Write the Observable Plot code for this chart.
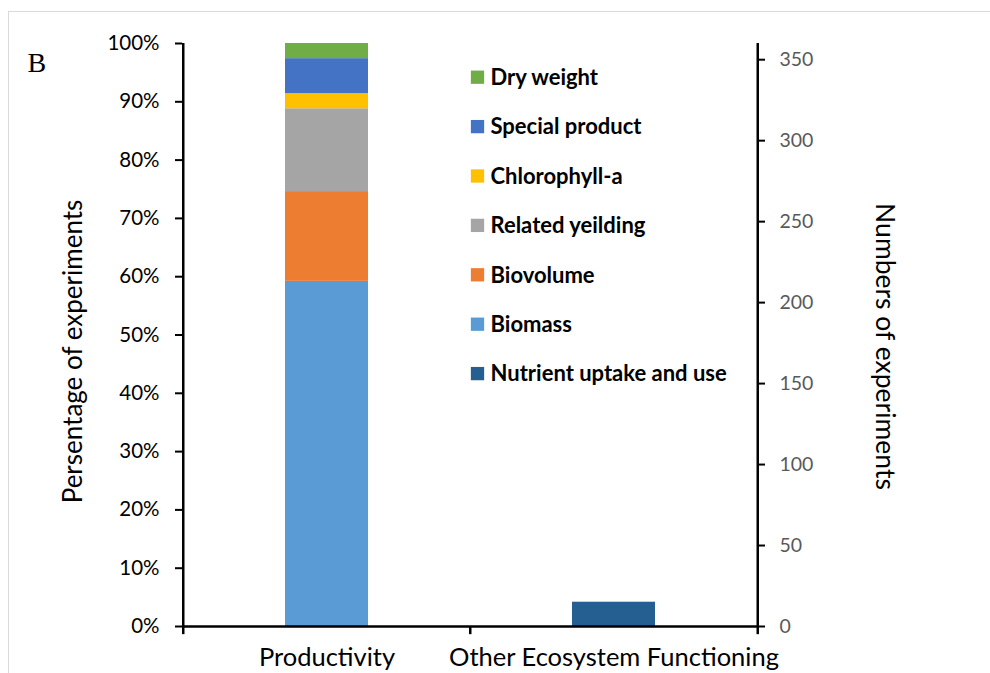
<!DOCTYPE html>
<html><head><meta charset="utf-8">
<script src="https://cdn.jsdelivr.net/npm/d3@7"></script>
<script src="https://cdn.jsdelivr.net/npm/@observablehq/plot@0.6"></script>
<style>
body{margin:0;background:#fff;}
#wrap{position:relative;width:990px;height:673px;overflow:hidden;}
#border{position:absolute;left:8px;top:11px;width:1000px;height:700px;border-top:1.5px solid #d9d9d9;border-left:1.5px solid #d9d9d9;pointer-events:none;}
#wrap svg{position:absolute;left:0;top:0;}
</style></head><body><div id="wrap"><div id="border"></div></div>
<script>
// ---- data ----
const categories = ["Productivity", "Other Ecosystem Functioning"];
const productivitySeries = ["Biomass", "Biovolume", "Related yeilding", "Chlorophyll-a", "Special product", "Dry weight"];
const productivityPercent = [59.2, 15.4, 14.2, 2.6, 6.0, 2.6];
const otherSeries = ["Nutrient uptake and use"];
const otherCounts = [15];           // read on right axis (numbers of experiments)
const leftTicks = [0, 10, 20, 30, 40, 50, 60, 70, 80, 90, 100];
const rightTicks = [0, 50, 100, 150, 200, 250, 300, 350];
const rightMax = 360;               // right axis top equals 100% on left axis
const legendOrder = ["Dry weight", "Special product", "Chlorophyll-a", "Related yeilding", "Biovolume", "Biomass", "Nutrient uptake and use"];
const legendColors = ["#70AD47", "#4472C4", "#FFC000", "#A5A5A5", "#ED7D31", "#5B9BD5", "#255E91"];
const leftTitle = "Persentage of experiments";
const rightTitle = "Numbers of experiments";
const panelLabel = "B";

// ---- build ----
const rows = [
  ...productivitySeries.map((s, i) => ({category: categories[0], series: s, value: productivityPercent[i]})),
  ...otherSeries.map((s, i) => ({category: categories[1], series: s, value: otherCounts[i] / rightMax * 100}))
];

const W = 990, H = 673, mL = 182, mR = 233, mT = 43, mB = 47;
const step = (W - mL - mR) / categories.length;
const midY = mT + (H - mT - mB) / 2;
const font = "Lato, 'Open Sans', sans-serif";

const legendMarks = legendOrder.flatMap((k, i) => [
  Plot.dot([k], {frameAnchor: "top-left", dx: 477 - mL, dy: 76.7 - mT + i * 49.4, symbol: "square", r: 7.5, fill: legendColors[i], stroke: null}),
  Plot.text([k], {frameAnchor: "top-left", dx: 490 - mL, dy: 77.5 - mT + i * 49.4, textAnchor: "start", lineAnchor: "middle", fontWeight: "bold", fontSize: 22, fill: "#000"})
]);

const chart = Plot.plot({
  width: W, height: H,
  marginLeft: mL, marginRight: mR, marginTop: mT, marginBottom: mB,
  style: {fontFamily: font, background: "transparent", overflow: "visible", color: "#000"},
  x: {domain: categories, paddingInner: 0.711, paddingOuter: 0.3555, axis: null},
  y: {domain: [0, 100], axis: null},
  color: {domain: legendOrder, range: legendColors},
  marks: [
    Plot.barY(rows, {x: "category", y: "value", fill: "series"}),
    // axis lines
    Plot.ruleY([0], {strokeWidth: 2.5, stroke: "#000"}),
    Plot.ruleX([categories[0]], {dx: -step / 2, y1: 0, y2: 100, strokeWidth: 2.5, stroke: "#000"}),
    Plot.ruleX([categories[categories.length - 1]], {dx: step / 2, y1: 0, y2: 100, strokeWidth: 2.5, stroke: "#000"}),
    // category boundary ticks
    Plot.ruleX(categories, {dx: -step / 2, y1: 0, y2: -1.4, strokeWidth: 2.5, stroke: "#000"}),
    Plot.ruleX([categories[categories.length - 1]], {dx: step / 2, y1: 0, y2: -1.4, strokeWidth: 2.5, stroke: "#000"}),
    Plot.axisY({anchor: "left", ticks: leftTicks, tickFormat: d => d + "%", tickSize: 7, tickPadding: 16, strokeWidth: 2, stroke: "#000", fill: "#000", fontSize: 20.5, label: null}),
    Plot.axisY({anchor: "right", ticks: rightTicks.map(v => v / rightMax * 100), tickFormat: d => Math.round(d * rightMax / 100), tickSize: 7, tickPadding: 15, strokeWidth: 2, stroke: "#000", fill: "#595959", fontSize: 19.5, label: null}),
    Plot.axisX({ticks: categories, tickSize: 0, tickPadding: 21, fontSize: 25.5, fill: "#000", label: null}),
    Plot.text([leftTitle], {frameAnchor: "left", textAnchor: "middle", rotate: -90, dx: 73 - mL, dy: 351 - midY, fontSize: 26, fill: "#000"}),
    Plot.text([rightTitle], {frameAnchor: "right", textAnchor: "middle", rotate: 90, dx: 884 - (W - mR), dy: 346 - midY, fontSize: 26.5, fill: "#000"}),
    Plot.text([panelLabel], {frameAnchor: "top-left", dx: 27 - mL, dy: 63 - mT, textAnchor: "start", lineAnchor: "middle", fontFamily: "'Liberation Serif', 'DejaVu Serif', serif", fontSize: 28, fill: "#000"}),
    ...legendMarks
  ]
});
document.getElementById("wrap").appendChild(chart);
</script>
</body></html>
